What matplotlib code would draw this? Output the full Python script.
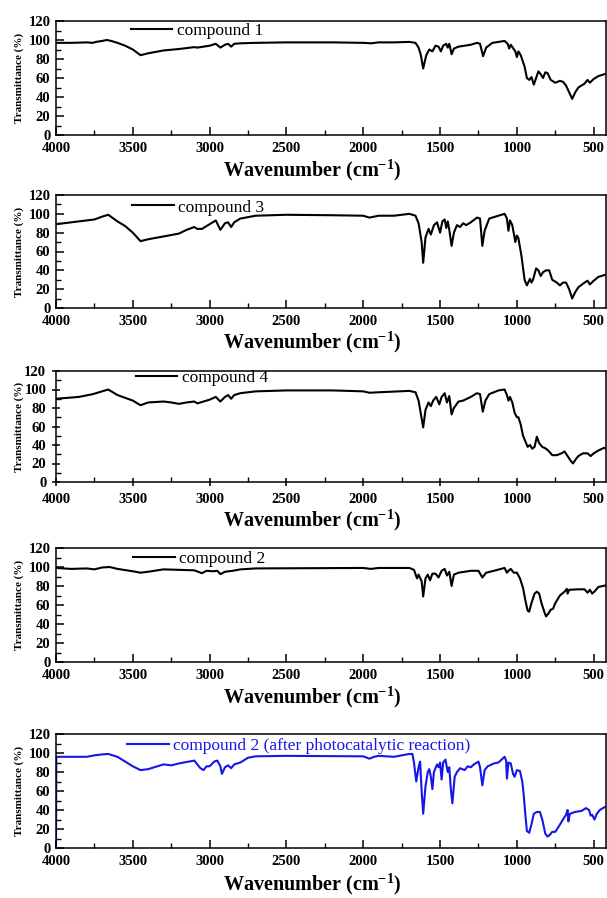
import matplotlib
matplotlib.use("Agg")
import matplotlib.pyplot as plt
from matplotlib.ticker import MultipleLocator

# FT-IR spectra, values (wavenumber in cm-1, transmittance in %)
wn_c1 = [4000, 3900, 3800, 3760, 3740, 3700, 3670, 3640, 3600, 3550, 3500, 3450, 3400, 3300, 3200,
         3100, 3080, 3060, 3000, 2960, 2930, 2900, 2880, 2860, 2840, 2800, 2700, 2500, 2200, 2000,
         1950, 1900, 1800, 1700, 1660, 1640, 1625, 1610, 1590, 1570, 1550, 1530, 1510, 1495, 1480,
         1460, 1450, 1440, 1425, 1410, 1380, 1300, 1260, 1240, 1220, 1200, 1160, 1080, 1060, 1050,
         1040, 1010, 1000, 990, 975, 950, 935, 920, 905, 890, 875, 860, 845, 830, 815, 800, 780,
         750, 720, 700, 680, 660, 640, 620, 600, 560, 540, 525, 500, 470, 430, 410]
t_c1 = [97, 97, 97.5, 97, 98, 99, 100, 99, 97, 94, 90, 84, 86, 89, 90.5,
        92.5, 92, 92.5, 94, 96, 92, 95, 96, 93, 96, 96.5, 97, 97.5, 97.5, 97,
        96.5, 97.5, 97.5, 98, 97, 92, 84, 70, 84, 90, 88, 94, 93, 88, 94,
        96, 92, 96, 85, 91, 93, 95, 97, 96, 83, 92, 97, 99, 96, 91,
        95, 88, 82, 88, 84, 72, 60, 58, 61, 53, 60, 67, 64, 60, 66, 65, 58,
        55, 57, 56, 52, 45, 38, 45, 50, 54, 58, 55, 59, 62, 64, 65]

wn_c3 = [4000, 3900, 3800, 3750, 3700, 3660, 3600, 3550, 3500, 3450, 3400, 3300, 3200, 3150, 3100,
         3080, 3050, 3000, 2960, 2930, 2900, 2880, 2860, 2840, 2800, 2700, 2500, 2200, 2000, 1960,
         1930, 1900, 1800, 1700, 1660, 1640, 1620, 1610, 1595, 1575, 1560, 1540, 1520, 1500, 1485,
         1470, 1460, 1450, 1440, 1425, 1410, 1390, 1370, 1350, 1330, 1300, 1260, 1240, 1225, 1210,
         1180, 1120, 1080, 1065, 1055, 1045, 1030, 1010, 1000, 990, 970, 950, 935, 915, 905, 895,
         875, 860, 845, 830, 810, 790, 770, 740, 720, 700, 680, 660, 640, 620, 600, 560, 540,
         525, 500, 470, 430, 410]
t_c3 = [89, 91, 93, 94, 97, 99, 92, 87, 80, 71, 73, 76, 79, 83, 86,
        84, 84, 89, 93, 83, 90, 91, 86, 91, 95, 98, 99, 98.5, 98, 96,
        97, 98, 98, 100, 98, 90, 70, 48, 75, 84, 78, 88, 91, 80, 92,
        94, 85, 92, 83, 66, 80, 88, 86, 90, 88, 91, 96, 95, 66, 82,
        95, 98, 100, 95, 82, 93, 88, 70, 77, 74, 55, 30, 24, 31, 27, 30,
        42, 40, 34, 38, 40, 40, 30, 27, 24, 27, 27, 20, 10, 17, 22, 27, 29,
        25, 29, 33, 35, 36]

wn_c4 = [4000, 3850, 3760, 3700, 3660, 3600, 3500, 3450, 3400, 3300, 3250, 3200, 3150, 3100, 3080,
         3000, 2960, 2930, 2900, 2880, 2860, 2840, 2800, 2700, 2500, 2200, 2000, 1960, 1900, 1700,
         1660, 1640, 1610, 1595, 1575, 1560, 1545, 1525, 1505, 1490, 1470, 1455, 1440, 1425, 1410,
         1380, 1350, 1300, 1260, 1240, 1222, 1205, 1180, 1120, 1080, 1065, 1055, 1045, 1030, 1015,
         1000, 990, 975, 960, 945, 930, 915, 900, 885, 870, 855, 835, 810, 790, 770, 740, 710,
         690, 670, 650, 635, 615, 600, 570, 540, 520, 500, 470, 445, 430, 410]
t_c4 = [90, 92, 95, 98, 100, 94, 88, 83, 86, 87, 86, 84.5, 86, 87, 85,
        89, 92, 87, 92, 94, 90, 94, 96, 98, 99, 99, 98, 96.5, 97, 98.5,
        97, 88, 59, 78, 86, 82, 88, 92, 84, 92, 96, 86, 93, 73, 80,
        87, 88, 92, 96, 95, 76, 88, 95, 99, 100, 94, 88, 92, 86, 75,
        70, 70, 62, 50, 44, 38, 40, 36, 38, 49, 42, 38, 36, 33, 29, 29, 31,
        33, 28, 23, 20, 25, 28, 31, 31, 28, 31, 34, 36, 37, 35]

wn_c2 = [4000, 3900, 3800, 3750, 3700, 3650, 3600, 3500, 3450, 3400, 3300, 3200, 3100, 3050, 3020,
         2980, 2950, 2930, 2900, 2850, 2800, 2700, 2000, 1950, 1900, 1700, 1670, 1650, 1640, 1620,
         1610, 1595, 1580, 1565, 1550, 1530, 1510, 1490, 1470, 1455, 1440, 1425, 1410, 1380, 1300,
         1250, 1225, 1200, 1150, 1080, 1065, 1055, 1040, 1020, 1000, 980, 960, 945, 930, 920, 905,
         885, 870, 855, 840, 820, 810, 795, 780, 765, 750, 720, 690, 675, 670, 660, 600, 560,
         540, 525, 510, 490, 470, 440, 410]
t_c2 = [99, 98, 98.5, 97.5, 99.5, 100, 98, 95.5, 94, 95, 97.5, 97, 96.5, 93.5, 96,
        95.5, 96, 92.5, 95, 96, 97.5, 98.5, 99, 98, 99, 99, 97, 88, 92, 85,
        69, 88, 92, 86, 93, 93, 89, 96, 98, 91, 95, 80, 92, 94, 96,
        96, 89, 94, 96, 99, 94, 96, 98, 94, 94, 88, 78, 65, 54, 53, 62,
        72, 74, 72, 62, 52, 48, 51, 55, 56, 62, 70, 74, 77, 72, 76, 76.5, 76.5,
        73, 76, 72, 75, 79, 80, 81]

wn_c2a = [4000, 3998, 3800, 3750, 3700, 3660, 3600, 3500, 3450, 3400, 3300, 3250, 3200, 3100, 3080,
          3060, 3040, 3020, 3000, 2970, 2950, 2930, 2920, 2900, 2880, 2860, 2840, 2800, 2750, 2700,
          2500, 2000, 1960, 1930, 1900, 1800, 1700, 1680, 1670, 1655, 1640, 1630, 1620, 1610, 1595,
          1580, 1570, 1560, 1550, 1540, 1520, 1510, 1500, 1490, 1480, 1465, 1450, 1440, 1430, 1420,
          1405, 1390, 1370, 1340, 1320, 1300, 1280, 1250, 1240, 1225, 1210, 1190, 1150, 1120, 1080,
          1070, 1065, 1055, 1040, 1025, 1015, 1000, 980, 965, 955, 945, 935, 920, 905, 890, 870,
          850, 835, 815, 800, 785, 770, 750, 730, 700, 680, 670, 665, 655, 620, 580, 550, 530,
          520, 510, 495, 480, 460, 430, 410]
t_c2a = [0, 96, 96, 97.5, 98.5, 99, 96, 86, 82, 83, 88, 87, 89, 92, 88,
         84, 82, 86, 86, 91, 92, 86, 78, 85, 87, 84, 88, 90, 95, 96.5,
         97, 96.5, 94, 96, 97, 96, 99, 99, 90, 70, 85, 91, 60, 36, 65,
         80, 83, 75, 62, 80, 88, 85, 90, 72, 90, 93, 80, 85, 62, 47,
         75, 80, 84, 82, 86, 85, 88, 91, 85, 66, 82, 86, 89, 90, 96,
         92, 73, 90, 89, 78, 75, 82, 81, 70, 55, 35, 18, 16, 25, 36, 38,
         38, 30, 15, 12, 14, 17, 17, 22, 30, 35, 40, 28, 36, 38, 39, 42, 40,
         34, 35, 30, 36, 40, 43, 44]

labels = ["compound 1", "compound 3", "compound 4", "compound 2",
          "compound 2 (after photocatalytic reaction)"]
spectra = [(wn_c1, t_c1), (wn_c3, t_c3), (wn_c4, t_c4), (wn_c2, t_c2), (wn_c2a, t_c2a)]
colors = ["black", "black", "black", "black", "#1616e6"]

# panel layout in pixels (top, bottom of each axes box)
W, H = 607, 898
boxes = [(21, 135), (195, 308), (371, 482), (548, 662), (734, 848)]
leg_x = [0.136, 0.138, 0.145, 0.140, 0.129]
leg_y = [0.915, 0.89, 0.935, 0.90, 0.895]
xlab_off = [35, 34, 38, 35, 36]
left, right = 56, 606

serif = ["Liberation Serif", "DejaVu Serif"]
plt.rcParams["font.family"] = serif
plt.rcParams["mathtext.fontset"] = "custom"
plt.rcParams["mathtext.rm"] = "Liberation Serif:bold"
plt.rcParams["mathtext.default"] = "regular"

fig = plt.figure(figsize=(W / 100, H / 100), dpi=100)

for i, ((top, bot), (wn, tr)) in enumerate(zip(boxes, spectra)):
    ax = fig.add_axes([left / W, 1 - bot / H, (right - left) / W, (bot - top) / H])
    ax.plot(wn, tr, color=colors[i], lw=1.5, label=labels[i])
    ax.set_xlim(4000, 420)
    ax.set_ylim(0, 120)
    ax.xaxis.set_major_locator(MultipleLocator(500))
    ax.xaxis.set_minor_locator(MultipleLocator(250))
    ax.yaxis.set_major_locator(MultipleLocator(20))
    ax.yaxis.set_minor_locator(MultipleLocator(10))
    d = "inout" if i == 2 else "in"
    ax.tick_params(which="major", direction=d, length=6, width=1.1, top=False, right=False,
                   labelsize=10.5, pad=4)
    ax.tick_params(which="minor", direction="in", length=3.5, width=1.0, top=False, right=False)
    ax.tick_params(axis="x", pad=5)
    for lab in ax.get_xticklabels() + ax.get_yticklabels():
        lab.set_fontweight("bold")
    for s in ax.spines.values():
        s.set_linewidth(1.1)

    ax.set_xlabel("Wavenumber (cm$^{-1}$)", fontsize=14.5, fontweight="bold", va="center")
    ax.xaxis.set_label_coords(0.465, -xlab_off[i] / (bot - top))
    ax.set_ylabel("Transmittance (%)", fontsize=8, fontweight="bold", va="center")
    ax.yaxis.set_label_coords(-37 / (right - left), 0.5)

    leg = ax.legend(loc="center left", bbox_to_anchor=(leg_x[i], leg_y[i]), frameon=False,
                    fontsize=12.5, handlelength=2.4, handletextpad=0.25,
                    borderpad=0, borderaxespad=0)
    for t in leg.get_texts():
        t.set_color(colors[i])

fig.savefig("out.png", dpi=100)
